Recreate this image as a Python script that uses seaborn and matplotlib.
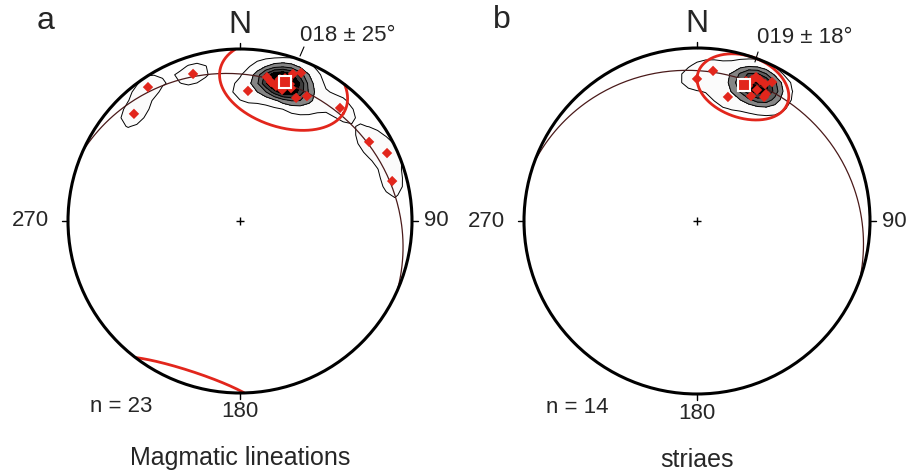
import numpy as np
import matplotlib.pyplot as plt
import seaborn as sns
from matplotlib.patches import Circle

sns.set_style("white")
plt.rcParams['font.family'] = ['Liberation Sans', 'DejaVu Sans']

# Panel a: magmatic lineations (trend, plunge in degrees)
a_trend = [325.5, 315.3, 342.3, 3.5, 10.6, 12.6, 19.8, 22.4, 21.0, 24.5, 28.2, 41.5,
           58.5, 65.2, 75.3, 15.3, 17.5, 18.8, 17.8, 14.9, 20.0, 17.5, 15.7]
a_plunge = [6.2, 13.4, 11.2, 25.2, 16.0, 18.4, 10.0, 7.6, 18.4, 22.4, 18.8, 13.3,
            13.0, 6.5, 9.4, 17.4, 18.2, 14.4, 21.0, 19.8, 16.4, 14.0, 15.4]
a_mean = (18, 16)
a_cone = 25
a_girdle = (294, 17)  # strike, dip

# Panel b: striae
b_trend = [6.1, 0.0, 14.0, 22.3, 28.4, 19.3, 24.6, 23.4, 28.4, 28.5, 21.3, 24.1, 26.4, 20.7]
b_plunge = [13.8, 19.0, 27.0, 11.0, 9.6, 15.4, 17.8, 22.4, 19.6, 17.6, 13.6, 11.8, 12.6, 17.6]
b_mean = (19, 18)
b_cone = 18
b_girdle = (290, 15)

# contour levels of the density
levels = [0.5, 1.8, 3.0, 4.2, 5.5, 999]

RED = "#e2261c"
GRAYS = ["#fbfbfb", "#858585", "#5f5f5f", "#3c3c3c", "#000000"]


def project(trend, plunge):
    # Schmidt net, lower hemisphere
    t = np.radians(np.asarray(trend, float))
    p = np.radians(np.asarray(plunge, float))
    r = np.sqrt(2) * np.sin((np.pi / 2 - p) / 2)
    return r * np.sin(t), r * np.cos(t)


def vec2tp(v):
    x, y, z = v
    return np.degrees(np.arctan2(x, y)), np.degrees(np.arcsin(np.clip(z, -1, 1)))


def tp2vec(trend, plunge):
    t, p = np.radians(trend), np.radians(plunge)
    return np.array([np.cos(p) * np.sin(t), np.cos(p) * np.cos(t), np.sin(p)])


def girdle_xy(strike, dip):
    s = np.radians(strike)
    sv = np.array([np.sin(s), np.cos(s), 0.0])
    dv = tp2vec(strike + 90, dip)
    th = np.linspace(0, np.pi, 200)
    v = np.outer(np.cos(th), sv) + np.outer(np.sin(th), dv)
    t, p = vec2tp(v.T)
    return project(t, p)


def cone_xy(mean, alpha):
    a = tp2vec(*mean)
    u = np.cross(a, [0, 0, 1.0])
    u /= np.linalg.norm(u)
    w = np.cross(a, u)
    phi = np.linspace(0, 2 * np.pi, 400)
    al = np.radians(alpha)
    v = np.cos(al) * a[:, None] + np.sin(al) * (np.outer(u, np.cos(phi)) + np.outer(w, np.sin(phi)))
    down = v[2] >= 0
    x1, y1 = project(*vec2tp(v))
    x2, y2 = project(*vec2tp(-v))
    x1, y1 = np.where(down, x1, np.nan), np.where(down, y1, np.nan)
    x2, y2 = np.where(~down, x2, np.nan), np.where(~down, y2, np.nan)
    return (x1, y1), (x2, y2)


def density_grid(trend, plunge, sigma=5.0, n=41):
    # exponential (Kamb-like) smoothing on a coarse grid
    g = np.linspace(-1, 1, n)
    gx, gy = np.meshgrid(g, g)
    r = np.clip(np.hypot(gx, gy), 0, 1)
    t = np.degrees(np.arctan2(gx, gy))
    p = 90 - 2 * np.degrees(np.arcsin(r / np.sqrt(2)))
    nodes = tp2vec(t, p)
    data = tp2vec(np.asarray(trend, float), np.asarray(plunge, float))
    cosang = np.abs(np.einsum("kij,kd->ijd", nodes, data))
    k = 1 / np.radians(sigma) ** 2
    dens = np.exp(k * (cosang - 1)).sum(axis=2)
    return gx, gy, dens


def draw_panel(ax, trend, plunge, mean, cone, girdle, letter, ntext, title, lab_x, lab_y, leader):
    ax.set_xlim(-1, 1)
    ax.set_ylim(-1, 1)
    ax.set_aspect("equal")
    ax.axis("off")
    x, y = project(trend, plunge)

    prim = Circle((0, 0), 1, transform=ax.transData, facecolor="none", edgecolor="none")
    ax.add_patch(prim)

    gx, gy, dens = density_grid(trend, plunge)
    cf = ax.contourf(gx, gy, dens, levels=levels, colors=GRAYS, zorder=1)
    cl = ax.contour(gx, gy, dens, levels=levels[:-1], colors="black", linewidths=0.7, zorder=1)
    cf.set_clip_path(prim)
    cl.set_clip_path(prim)

    gx2, gy2 = girdle_xy(*girdle)
    ax.plot(gx2, gy2, color="#4a1a1a", lw=0.9, zorder=2)

    (cx1, cy1), (cx2, cy2) = cone_xy(mean, cone)
    ax.plot(cx1, cy1, color=RED, lw=2.0, zorder=3)
    ax.plot(cx2, cy2, color=RED, lw=2.0, zorder=3)

    sns.scatterplot(x=x, y=y, ax=ax, marker="D", s=28, color=RED, edgecolor="none", zorder=5)
    mx, my = project(*mean)
    ax.plot(mx, my, marker="s", ms=8, mfc=RED, mec="white", mew=1.5, zorder=6)

    # primitive circle, ticks, center
    ax.add_patch(Circle((0, 0), 1, facecolor="none", edgecolor="black", lw=2.2, clip_on=False, zorder=7))
    for dx, dy in [(0, 1), (1, 0), (0, -1), (-1, 0)]:
        ax.plot([dx, dx * 1.035], [dy, dy * 1.035], color="black", lw=1.0, clip_on=False)
    ax.plot(0, 0, marker="+", ms=6, color="black", mew=1.0)

    ax.text(0, 1.14, "N", ha="center", va="center", fontsize=23)
    ax.text(-1.22, 0, "270", ha="center", va="center", fontsize=16)
    ax.text(1.14, 0, "90", ha="center", va="center", fontsize=16)
    ax.text(0, -1.11, "180", ha="center", va="center", fontsize=16)
    ax.text(-0.69, -1.08, ntext, ha="center", va="center", fontsize=16)
    ax.text(0, -1.38, title, ha="center", va="center", fontsize=18)
    ax.text(-1.13, 1.16, letter, ha="center", va="center", fontsize=23)
    ax.text(lab_x, lab_y, f"{mean[0]:03d} ± {cone}°", ha="left", va="center", fontsize=16)
    ax.plot(leader[0], leader[1], color="black", lw=0.8, clip_on=False)


fig = plt.figure(figsize=(9.12, 4.74), dpi=100)
ax_a = fig.add_axes([68 / 912, 81 / 474, 344 / 912, 344 / 474])
ax_b = fig.add_axes([524 / 912, 80 / 474, 346 / 912, 346 / 474])

draw_panel(ax_a, a_trend, a_plunge, a_mean, a_cone, a_girdle, "a", "n = 23",
           "Magmatic lineations", 0.35, 1.076, ([0.372, 0.349], [1.012, 0.959]))
draw_panel(ax_b, b_trend, b_plunge, b_mean, b_cone, b_girdle, "b", "n = 14",
           "striaes", 0.347, 1.058, ([0.353, 0.335], [0.977, 0.919]))

fig.savefig("out.png", dpi=100)
